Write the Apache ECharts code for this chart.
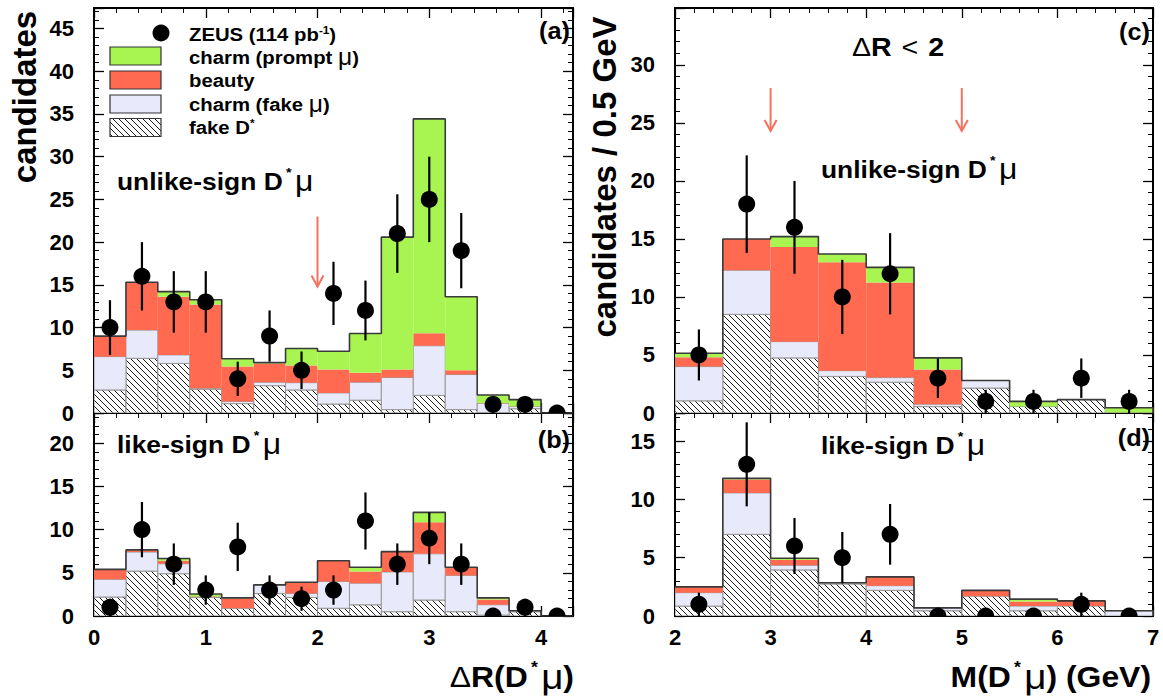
<!DOCTYPE html>
<html><head><meta charset="utf-8">
<script src="https://cdn.jsdelivr.net/npm/echarts@6/dist/echarts.min.js"></script>
<style>html,body{margin:0;padding:0;background:#fff}#c{width:1163px;height:697px}</style>
</head><body><div id="c"></div>
<script>
// ---------- data ----------
const edgesAB = [0, 0.286, 0.571, 0.857, 1.143, 1.429, 1.714, 2.0, 2.286, 2.571, 2.857, 3.143, 3.429, 3.714, 4.0, 4.286];
const centersAB = [0.143, 0.429, 0.714, 1.0, 1.286, 1.571, 1.857, 2.143, 2.429, 2.714, 3.0, 3.286, 3.571, 3.857, 4.143];
const edgesCD = [2, 2.5, 3, 3.5, 4, 4.5, 5, 5.5, 6, 6.5, 7];
const centersCD = [2.25, 2.75, 3.25, 3.75, 4.25, 4.75, 5.25, 5.75, 6.25, 6.75];

// (a) unlike-sign, DeltaR
const fakeD_a     = [2.7, 6.4, 5.8, 2.8, 1.1, 3.2, 2.7, 1.05, 1.5, 0.4, 2.07, 0.4, 0.05, 0.5, 0];
const charmFake_a = [3.9, 3.3, 1.0, 0.1, 0.25, 0.4, 0.85, 1.3, 2.1, 3.75, 5.8, 4.1, 1.1, 0.28, 0];
const beauty_a    = [2.4, 5.6, 6.8, 9.8, 4.1, 2.2, 2.0, 2.73, 1.1, 0.93, 1.45, 0.5, 0.02, 0.02, 0];
const prompt_a    = [0, 0, 0.6, 0.55, 0.9, 0.1, 2.0, 2.15, 4.6, 15.5, 25.1, 8.6, 0.93, 0.77, 0];
const data_a      = [10, 16, 13, 13, 4, 9, 5, 14, 12, 21, 25, 19, 1, 1, 0];
const err_a       = [3.2, 4.0, 3.6, 3.6, 2.0, 3.0, 2.2, 3.7, 3.5, 4.6, 5.0, 4.4, 1.0, 1.0, 0];

// (b) like-sign, DeltaR
const fakeD_b     = [2.2, 5.2, 4.9, 2.15, 0.9, 2.6, 2.15, 0.9, 1.3, 0.5, 1.85, 0.5, 0.1, 0.5, 0];
const charmFake_b = [2.05, 2.2, 1.15, 0.05, 0, 1.0, 0.45, 3.1, 2.5, 4.6, 5.35, 4.2, 1.2, 0.1, 0];
const beauty_b    = [1.15, 0.2, 0.35, 0.05, 1.15, 0, 1.3, 2.4, 1.35, 2.3, 3.65, 0.95, 0.6, 0, 0];
const prompt_b    = [0, 0.05, 0.25, 0.3, 0.05, 0, 0, 0, 0.5, 0.05, 1.15, 0, 0.2, 0, 0];
const data_b      = [1, 10, 6, 3, 8, 3, 2, 3, 11, 6, 9, 6, 0, 1, 0];
const err_b       = [1.0, 3.2, 2.4, 1.7, 2.8, 1.7, 1.4, 1.7, 3.3, 2.4, 3.0, 2.4, 0, 1.0, 0];

// (c) unlike-sign, mass
const fakeD_c     = [1.05, 8.5, 4.75, 3.15, 2.65, 0.55, 2.15, 0.55, 1.15, 0.05];
const charmFake_c = [2.95, 3.8, 1.4, 0.5, 0.4, 0.2, 0.65, 0, 0, 0];
const beauty_c    = [0.8, 2.7, 8.15, 9.35, 8.2, 3.0, 0, 0, 0, 0];
const prompt_c    = [0.35, 0, 0.9, 0.7, 1.3, 1.0, 0, 0.45, 0, 0.4];
const data_c      = [5, 18, 16, 10, 12, 3, 1, 1, 3, 1];
const err_c       = [2.2, 4.2, 4.0, 3.2, 3.5, 1.7, 1.0, 1.0, 1.7, 1.0];

// (d) like-sign, mass
const fakeD_d     = [0.85, 7.0, 3.95, 2.75, 2.2, 0.45, 1.7, 0.45, 0.85, 0];
const charmFake_d = [1.15, 3.55, 0.4, 0.1, 0.4, 0.25, 0, 0.4, 0, 0.45];
const beauty_d    = [0.5, 1.15, 0.45, 0, 0.75, 0, 0.5, 0.4, 0.45, 0];
const prompt_d    = [0, 0.1, 0.15, 0, 0, 0, 0, 0.2, 0, 0];
const data_d      = [1, 13, 6, 5, 7, 0, 0, 0, 1, 0];
const err_d       = [1.0, 3.6, 2.4, 2.2, 2.6, 0, 0, 0, 1.0, 0];

// arrows
const arrowA_x = [2], arrowA_from = [23], arrowA_to = [14.8];
const arrowC_x = [3, 5], arrowC_from = [28, 28], arrowC_to = [24.3, 24.3];

// axis ranges
const xRangeAB = [0, 4.286], xRangeCD = [2, 7];
const yRangeA = [0, 47.4], yRangeB = [0, 23.5], yRangeC = [0, 34.9], yRangeD = [0, 17.4];

// ---------- styles ----------
const FONT = '"Liberation Sans", Arial, Helvetica, sans-serif';
const GREEN = '#a8f552', RED = '#ff6a50', LAV = '#e8e9fa', ARROW = '#f5725e';
const SX = 1.1;

function hatchPattern() {
  const s = 6;
  const c = document.createElement('canvas');
  c.width = s; c.height = s;
  const g = c.getContext('2d');
  g.fillStyle = '#fff'; g.fillRect(0, 0, s, s);
  g.strokeStyle = '#1a1a1a'; g.lineWidth = 1;
  g.beginPath();
  for (const k of [-s, 0, s]) { g.moveTo(k, 0); g.lineTo(k + s, s); }
  g.stroke();
  return {image: c.toDataURL(), repeat: 'repeat', imageWidth: s, imageHeight: s};
}
const HATCH = hatchPattern();

function stackRects(edges, layers) {
  const out = layers.map(() => []);
  for (let i = 0; i < edges.length - 1; i++) {
    let base = 0;
    layers.forEach((L, k) => { const top = base + L[i]; out[k].push([edges[i], edges[i + 1], base, top]); base = top; });
  }
  return out;
}
function rectSeries(p, data, fill, stroke) {
  return {
    type: 'custom', xAxisIndex: 2 * p, yAxisIndex: 2 * p, clip: true, silent: true, z: 2,
    data, encode: {x: [0, 1], y: [2, 3]},
    renderItem: (params, api) => {
      const y0 = api.value(2), y1 = api.value(3);
      if (y1 - y0 <= 1e-9) return null;
      const a = api.coord([api.value(0), y1]);
      const b = api.coord([api.value(1), y0]);
      return {type: 'rect', shape: {x: a[0], y: a[1], width: b[0] - a[0], height: b[1] - a[1]},
        style: {fill, stroke: stroke || null, lineWidth: stroke ? 1 : 0}};
    }
  };
}
function envelope(p, edges, layers) {
  const n = edges.length - 1, d = [];
  let last = 0;
  for (let i = 0; i < n; i++) { last = layers.reduce((s, L) => s + L[i], 0); d.push([edges[i], last]); }
  d.push([edges[n], last]); d.push([edges[n], 0]);
  return {type: 'line', xAxisIndex: 2 * p, yAxisIndex: 2 * p, step: 'end', data: d, symbol: 'none', showSymbol: false,
    lineStyle: {color: '#3a3a3a', width: 1.6}, silent: true, z: 3};
}
function pointSeries(p, centers, vals, errs) {
  return {
    type: 'custom', xAxisIndex: 2 * p, yAxisIndex: 2 * p, clip: true, z: 5, silent: true,
    data: centers.map((x, i) => [x, vals[i], errs[i]]),
    renderItem: (params, api) => {
      const x = api.value(0), y = api.value(1), e = api.value(2);
      const c = api.coord([x, y]);
      const ch = [];
      if (e > 0) {
        const t = api.coord([x, y + e]), b = api.coord([x, y - e]);
        ch.push({type: 'line', shape: {x1: t[0], y1: t[1], x2: b[0], y2: b[1]}, style: {stroke: '#000', lineWidth: 2.2}});
      }
      ch.push({type: 'circle', shape: {cx: c[0], cy: c[1], r: 8.5}, style: {fill: '#000'}});
      return {type: 'group', children: ch};
    }
  };
}
function arrowSeries(p, xs, from, to) {
  return {
    type: 'custom', xAxisIndex: 2 * p, yAxisIndex: 2 * p, clip: false, z: 6, silent: true,
    data: xs.map((x, i) => [x, from[i], to[i]]),
    renderItem: (params, api) => {
      const a = api.coord([api.value(0), api.value(1)]);
      const t = api.coord([api.value(0), api.value(2)]);
      return {type: 'group', children: [
        {type: 'line', shape: {x1: a[0], y1: a[1], x2: t[0], y2: t[1]}, style: {stroke: ARROW, lineWidth: 2}},
        {type: 'polyline', shape: {points: [[t[0] - 6, t[1] - 11], [t[0], t[1]], [t[0] + 6, t[1] - 11]]}, style: {stroke: ARROW, lineWidth: 2, fill: null}}
      ]};
    }
  };
}

const tickStyle = {show: true, inside: true, length: 10, lineStyle: {color: '#000', width: 1.3}};
const minorStyle = {show: true, splitNumber: 5, length: 5, lineStyle: {color: '#000', width: 1}};
function fmt(interval) { return v => { const r = Math.round(v); return (Math.abs(v - r) < 1e-6 && r % interval === 0) ? String(r) : ''; }; }
function axisBase(p, range, interval, pos, labels, margin) {
  return {type: 'value', gridIndex: p, position: pos, min: range[0], max: range[1], interval,
    axisLine: {show: true, onZero: false, lineStyle: {color: '#000', width: 2}},
    axisTick: tickStyle, minorTick: minorStyle, splitLine: {show: false}, minorSplitLine: {show: false},
    axisLabel: {show: labels, formatter: fmt(interval), fontFamily: FONT, fontWeight: 'bold', fontSize: 22, color: '#000', margin}};
}

const grids = [
  {left: 94, top: 8, width: 479, height: 405},
  {left: 94, top: 413, width: 479, height: 203},
  {left: 675, top: 8, width: 478, height: 405},
  {left: 675, top: 413, width: 478, height: 203}
];
const xr = [xRangeAB, xRangeAB, xRangeCD, xRangeCD];
const yr = [yRangeA, yRangeB, yRangeC, yRangeD];
const xAxes = [], yAxes = [];
for (let p = 0; p < 4; p++) {
  xAxes.push(axisBase(p, xr[p], 1, 'bottom', p === 1 || p === 3, 10));
  xAxes.push(axisBase(p, xr[p], 1, 'top', false, 10));
  yAxes.push(axisBase(p, yr[p], 5, 'left', true, 20));
  yAxes.push(axisBase(p, yr[p], 5, 'right', false, 20));
}

const panels = [
  [edgesAB, centersAB, [fakeD_a, charmFake_a, beauty_a, prompt_a], data_a, err_a],
  [edgesAB, centersAB, [fakeD_b, charmFake_b, beauty_b, prompt_b], data_b, err_b],
  [edgesCD, centersCD, [fakeD_c, charmFake_c, beauty_c, prompt_c], data_c, err_c],
  [edgesCD, centersCD, [fakeD_d, charmFake_d, beauty_d, prompt_d], data_d, err_d]
];
const series = [];
panels.forEach((P, p) => {
  const st = stackRects(P[0], P[2]);
  series.push(rectSeries(p, st[0], HATCH, '#888'));
  series.push(rectSeries(p, st[1], LAV, '#999'));
  series.push(rectSeries(p, st[2], RED, null));
  series.push(rectSeries(p, st[3], GREEN, null));
  series.push(envelope(p, P[0], P[2]));
  series.push(pointSeries(p, P[1], P[3], P[4]));
});
series.push(arrowSeries(0, arrowA_x, arrowA_from, arrowA_to));
series.push(arrowSeries(2, arrowC_x, arrowC_from, arrowC_to));

// ---------- texts ----------
function richStyles(size) {
  return {
    m: {fontSize: size, fontWeight: 'bold', fontFamily: FONT, fill: '#000'},
    s: {fontSize: Math.round(size * 0.55), lineHeight: Math.round(size * 0.5), fontWeight: 'bold', fontFamily: FONT, fill: '#000', verticalAlign: 'top', padding: [0, 3, 0, 3]},
    e: {fontSize: Math.round(size * 0.6), lineHeight: Math.round(size * 0.6), fontWeight: 'bold', fontFamily: FONT, fill: '#000', verticalAlign: 'top'},
    u: {fontSize: Math.round(size * 1.2), fontWeight: 'normal', fontFamily: FONT, fill: '#000'},
    n: {fontSize: size, fontWeight: 'normal', fontFamily: FONT, fill: '#000'}
  };
}
function richDmu(prefix, suffix, size) {
  return {text: `{m|${prefix}D}{s|*}{u|μ}` + (suffix ? `{m|${suffix}}` : ''), rich: richStyles(size)};
}
function txt(x, y, style, align, extra) {
  return Object.assign({type: 'text', x, y, z: 100, silent: true, scaleX: SX,
    style: Object.assign({fill: '#000', align: align || 'left', verticalAlign: 'middle', fontFamily: FONT, fontWeight: 'bold'}, style)}, extra || {});
}
const legendY = [34, 57, 80.5, 104, 127.5];
const LG = 19;
const graphic = [
  txt(24, 97, {text: 'candidates', fontSize: 33}, 'center', {rotation: Math.PI / 2, scaleX: 1}),
  txt(604, 177, {text: 'candidates / 0.5 GeV', fontSize: 33}, 'center', {rotation: Math.PI / 2, scaleX: 1}),
  txt(570, 31, {text: '(a)', fontSize: 23}, 'right'),
  txt(570, 440, {text: '(b)', fontSize: 23}, 'right'),
  txt(1150, 32, {text: '(c)', fontSize: 23}, 'right'),
  txt(1150, 438, {text: '(d)', fontSize: 23}, 'right'),
  txt(117, 181, richDmu('unlike-sign ', '', 24)),
  txt(117, 444, richDmu('like-sign ', '', 24)),
  txt(821, 169, richDmu('unlike-sign ', '', 24)),
  txt(821, 445, richDmu('like-sign ', '', 24)),
  txt(898, 47, {text: '{n|Δ}{m|R}{l|<}{m|2}', rich: Object.assign(richStyles(26), {
    l: {fontSize: 26, fontWeight: 'normal', fontFamily: FONT, fill: '#000', padding: [0, 9, 0, 9]}})}, 'center'),
  txt(574, 677, Object.assign(richDmu('', ')', 29), {text: '{n|Δ}{m|R(D}{s|*}{u|μ}{m|)}'}), 'right'),
  txt(1151, 677, richDmu('M(', ') (GeV)', 29), 'right'),
  // legend
  {type: 'circle', z: 100, silent: true, shape: {cx: 161, cy: 33, r: 8.5}, style: {fill: '#000'}},
  {type: 'rect', z: 100, silent: true, shape: {x: 110, y: 47, width: 51, height: 18}, style: {fill: GREEN, stroke: '#333', lineWidth: 1.2}},
  {type: 'rect', z: 100, silent: true, shape: {x: 110, y: 71, width: 51, height: 18}, style: {fill: RED, stroke: '#333', lineWidth: 1.2}},
  {type: 'rect', z: 100, silent: true, shape: {x: 110, y: 95, width: 51, height: 18}, style: {fill: LAV, stroke: '#333', lineWidth: 1.2}},
  {type: 'rect', z: 100, silent: true, shape: {x: 110, y: 118.5, width: 51, height: 18}, style: {fill: HATCH, stroke: '#333', lineWidth: 1.2}},
  txt(189, legendY[0], {text: '{m|ZEUS (114 pb}{e|-1}{m|)}', rich: richStyles(LG)}, 'left', {scaleX: 1.07}),
  txt(189, legendY[1], {text: '{m|charm (prompt }{u|μ}{m|)}', rich: richStyles(LG)}, 'left', {scaleX: 1.07}),
  txt(189, legendY[2], {text: 'beauty', fontSize: LG}, 'left', {scaleX: 1.07}),
  txt(189, legendY[3], {text: '{m|charm (fake }{u|μ}{m|)}', rich: richStyles(LG)}, 'left', {scaleX: 1.07}),
  txt(189, legendY[4], {text: '{m|fake D}{e|*}', rich: richStyles(LG)}, 'left', {scaleX: 1.07})
];

const chart = echarts.init(document.getElementById('c'), null, {renderer: 'svg'});
chart.setOption({
  animation: false,
  backgroundColor: '#fff',
  grid: grids,
  xAxis: xAxes,
  yAxis: yAxes,
  series,
  graphic
});
</script>
</body></html>
